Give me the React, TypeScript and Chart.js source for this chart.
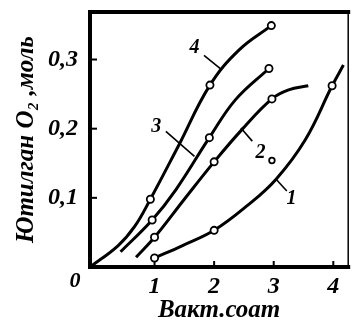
import React, { useEffect, useRef } from 'react';
import { Chart, registerables } from 'chart.js';

Chart.register(...registerables);

// Curve data (hours, mol O2)
const curve1X = [1.0, 1.47, 2.0, 2.56, 3.04, 3.53, 3.98, 4.17];
const curve1Y = [0.013, 0.031, 0.053, 0.089, 0.127, 0.184, 0.262, 0.292];
const curve1Marks = [1, 0, 1, 0, 0, 0, 1, 0];

const curve2X = [0.69, 1.0, 1.5, 2.0, 2.47, 2.97, 3.25, 3.58];
const curve2Y = [0.014, 0.043, 0.098, 0.152, 0.199, 0.243, 0.256, 0.262];
const curve2Marks = [0, 1, 0, 1, 0, 1, 0, 0];

const curve3X = [0.43, 0.96, 1.36, 1.92, 2.36, 2.92];
const curve3Y = [0.022, 0.068, 0.112, 0.187, 0.242, 0.287];
const curve3Marks = [0, 1, 0, 1, 0, 1];

const curve4X = [-0.08, 0.39, 0.67, 0.93, 1.4, 1.93, 2.42, 2.96];
const curve4Y = [0.0, 0.031, 0.059, 0.098, 0.175, 0.263, 0.314, 0.349];
const curve4Marks = [0, 0, 0, 1, 0, 1, 0, 1];

const extraX = [2.97];
const extraY = [0.154];

const xTicks = [1, 2, 3, 4];
const yTicks = [0.1, 0.2, 0.3];

const curveNames = ['1', '2', '3', '4'];
const nameX = [3.3, 2.78, 1.03, 1.67];
const nameY = [0.098, 0.165, 0.203, 0.317];
const leaderX0 = [3.04, 2.45, 1.19, 1.83];
const leaderY0 = [0.127, 0.201, 0.196, 0.306];
const leaderX1 = [3.22, 2.64, 1.67, 2.13];
const leaderY1 = [0.11, 0.182, 0.16, 0.285];

const xTitle = 'Вакт.соат';
const yTitle = 'Ютилган O₂ ,моль';
const originLabel = '0';

const FAMILY = "'Liberation Serif', 'DejaVu Serif', serif";

function toPoints(xs: number[], ys: number[]) {
  return xs.map((x, i) => ({ x, y: ys[i] }));
}

function lineDataset(xs: number[], ys: number[], marks: number[]) {
  return {
    data: toPoints(xs, ys),
    borderColor: '#000',
    borderWidth: 3,
    pointRadius: marks.map((m) => (m ? 3.6 : 0)),
    pointBackgroundColor: '#fff',
    pointBorderColor: '#000',
    pointBorderWidth: 1.8,
    tension: 0.4,
    fill: false,
  };
}

const framePlugin = {
  id: 'frameAndNotes',
  afterDatasetsDraw(chart: any) {
    const { ctx, chartArea, scales } = chart;
    const xs = scales.x;
    const ys = scales.y;
    const { left, right, top, bottom } = chartArea;
    ctx.save();
    ctx.strokeStyle = '#000';
    ctx.lineCap = 'square';
    ctx.lineWidth = 4;
    ctx.beginPath();
    ctx.moveTo(left, top);
    ctx.lineTo(left, bottom);
    ctx.lineTo(right, bottom);
    ctx.stroke();
    ctx.beginPath();
    ctx.moveTo(left, top);
    ctx.lineTo(right, top);
    ctx.stroke();
    ctx.lineWidth = 1.5;
    ctx.beginPath();
    ctx.moveTo(right, top);
    ctx.lineTo(right, bottom);
    ctx.stroke();
    ctx.lineWidth = 2;
    ctx.lineCap = 'butt';
    yTicks.forEach((v) => {
      const py = ys.getPixelForValue(v);
      ctx.beginPath();
      ctx.moveTo(left, py);
      ctx.lineTo(left + 7, py);
      ctx.stroke();
    });
    xTicks.forEach((v) => {
      const px = xs.getPixelForValue(v);
      ctx.beginPath();
      ctx.moveTo(px, bottom);
      ctx.lineTo(px, bottom - 6);
      ctx.stroke();
    });
    ctx.lineWidth = 1.6;
    curveNames.forEach((_, i) => {
      ctx.beginPath();
      ctx.moveTo(xs.getPixelForValue(leaderX0[i]), ys.getPixelForValue(leaderY0[i]));
      ctx.lineTo(xs.getPixelForValue(leaderX1[i]), ys.getPixelForValue(leaderY1[i]));
      ctx.stroke();
    });
    ctx.fillStyle = '#000';
    ctx.font = `italic bold 20px ${FAMILY}`;
    ctx.textAlign = 'center';
    ctx.textBaseline = 'middle';
    curveNames.forEach((name, i) => {
      ctx.fillText(name, xs.getPixelForValue(nameX[i]), ys.getPixelForValue(nameY[i]));
    });
    ctx.font = `italic bold 22px ${FAMILY}`;
    ctx.fillText(originLabel, left - 15, bottom + 14);
    ctx.restore();
  },
};

export default function App() {
  const ref = useRef<HTMLCanvasElement | null>(null);
  useEffect(() => {
    document.body.style.margin = '0';
    const canvas = ref.current;
    if (!canvas) return;
    const tickFont = { family: FAMILY, size: 24, style: 'italic' as const, weight: 'bold' as const };
    const chart = new Chart(canvas, {
      type: 'line',
      data: {
        datasets: [
          lineDataset(curve1X, curve1Y, curve1Marks),
          lineDataset(curve2X, curve2Y, curve2Marks),
          lineDataset(curve3X, curve3Y, curve3Marks),
          lineDataset(curve4X, curve4Y, curve4Marks),
          {
            data: toPoints(extraX, extraY),
            showLine: false,
            pointRadius: 2.8,
            pointBackgroundColor: '#fff',
            pointBorderColor: '#000',
            pointBorderWidth: 1.8,
          } as any,
        ],
      },
      options: {
        animation: false,
        responsive: false,
        maintainAspectRatio: false,
        layout: { padding: { top: 12, right: 4, left: 0, bottom: 0 } },
        plugins: { legend: { display: false }, tooltip: { enabled: false } },
        scales: {
          x: {
            type: 'linear',
            min: -0.083,
            max: 4.25,
            grid: { display: false, drawTicks: false },
            border: { display: false },
            afterBuildTicks: (s: any) => {
              s.ticks = xTicks.map((v) => ({ value: v }));
            },
            afterFit: (s: any) => {
              s.height = 53;
              s.paddingLeft = 0;
              s.paddingRight = 0;
            },
            ticks: {
              color: '#000',
              font: tickFont,
              padding: 5,
              maxRotation: 0,
              callback: (v: any) => String(v),
            },
            title: {
              display: true,
              text: xTitle,
              color: '#000',
              font: { family: FAMILY, size: 25, style: 'italic', weight: 'bold', lineHeight: 0.75 },
              padding: { top: 0, bottom: 0 },
            },
          },
          y: {
            type: 'linear',
            min: 0,
            max: 0.3687,
            grid: { display: false, drawTicks: false },
            border: { display: false },
            afterBuildTicks: (s: any) => {
              s.ticks = yTicks.map((v) => ({ value: v }));
            },
            afterFit: (s: any) => {
              s.width = 90;
              s.paddingTop = 0;
              s.paddingBottom = 0;
            },
            ticks: {
              color: '#000',
              font: tickFont,
              padding: 12,
              callback: (v: any) => Number(v).toFixed(1).replace('.', ','),
            },
            title: {
              display: true,
              text: yTitle,
              color: '#000',
              font: { family: FAMILY, size: 25, style: 'italic', weight: 'bold', lineHeight: 1.2 },
              padding: { top: 12, bottom: 0 },
            },
          },
        },
      },
      plugins: [framePlugin],
    });
    return () => chart.destroy();
  }, []);
  return (
    <div style={{ width: 354, height: 320 }}>
      <canvas ref={ref} width={354} height={320} style={{ display: 'block', width: 354, height: 320 }} />
    </div>
  );
}
